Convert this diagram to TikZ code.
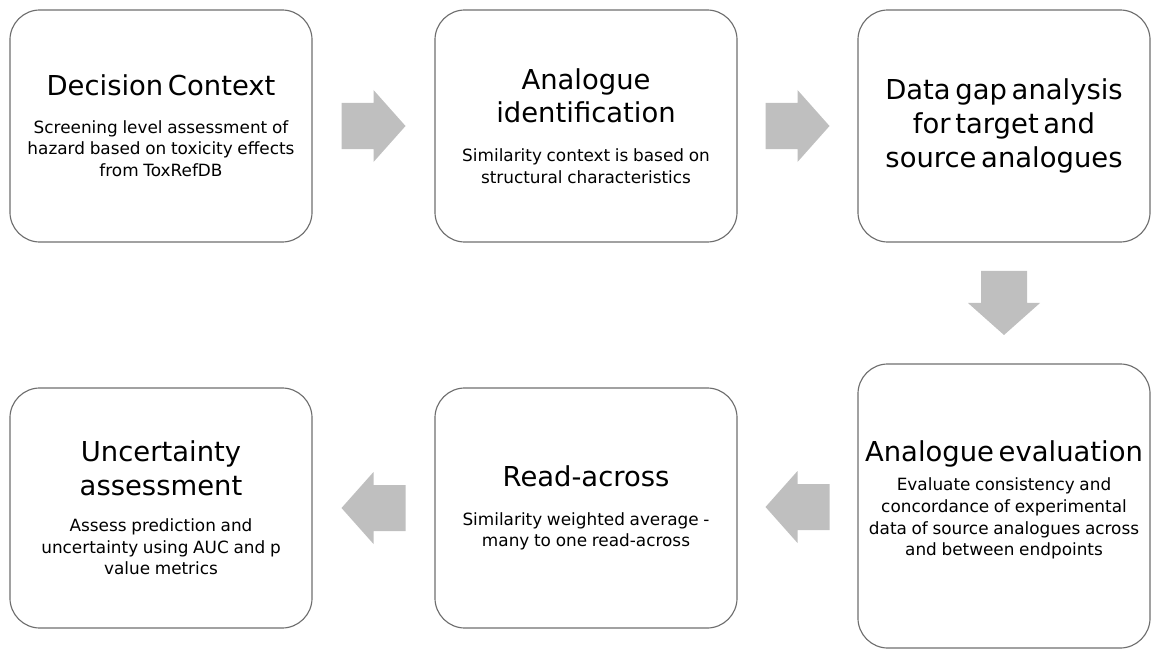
\documentclass[tikz,border=0pt]{standalone}
\usepackage{fontspec}
\setmainfont{DejaVu Sans}
\usepackage{tikz}
\usetikzlibrary{positioning,calc}

\definecolor{boxline}{HTML}{6E6E6E}
\definecolor{flowgray}{HTML}{BFBFBF}
\newcommand{\stagetitle}{\fontsize{19.5}{24}\selectfont}
\newcommand{\stagenote}{\fontsize{12}{15.5}\selectfont}

\begin{document}
\begin{tikzpicture}[
    x=0.025cm, y=-0.025cm,
    stagebox/.style={rectangle, draw=boxline, line width=0.8pt, rounded corners=0.75cm,
        minimum width=7.55cm, minimum height=5.8cm, text width=7.2cm, inner sep=0.05cm, align=center},
    pics/flowarrow/.style={code={
        \fill[flowgray] (-32,-23) -- (0,-23) -- (0,-36) -- (32,0) -- (0,36) -- (0,23) -- (-32,23) -- cycle;
    }}
]
    \useasboundingbox (0,0) rectangle (1152,650);

    % top row
    \node[stagebox] (dc) at (161,126) {{\stagetitle Decision Context\par}\vspace{11pt}
        \stagenote Screening level assessment of\\hazard based on toxicity effects\\from ToxRefDB\par};
    \node[stagebox] (ai) at (586,126) {{\stagetitle Analogue\\identification\par}\vspace{12pt}
        \stagenote Similarity context is based on\\structural characteristics\par};
    \node[stagebox, minimum width=7.3cm] (dg) at (1004,126) {\stagetitle Data gap analysis\\for target and\\source analogues\par};

    % bottom row
    \node[stagebox, minimum width=7.3cm, minimum height=7.1cm] (ae) at (1004,506) {{\stagetitle Analogue evaluation\par}\vspace{5pt}
        \stagenote Evaluate consistency and\\concordance of experimental\\data of source analogues across\\and between endpoints\par\kern8.5pt};
    \node[stagebox, minimum height=6cm] (ra) at (586,508) {{\stagetitle Read-across\par}\vspace{12pt}
        \stagenote Similarity weighted average -\\many to one read-across\par};
    \node[stagebox, minimum height=6cm] (ua) at (161,508) {{\stagetitle Uncertainty\\assessment\par}\vspace{10pt}
        \stagenote Assess prediction and\\uncertainty using AUC and p\\value metrics\par};

    % block arrows between the stages
    \pic (f1) at ($(dc.east)!0.5!(ai.west)$) {flowarrow};
    \pic (f2) at ($(ai.east)!0.5!(dg.west)$) {flowarrow};
    \pic[rotate=-90] (f3) at ($(dg.south)!0.5!(ae.north)$) {flowarrow};
    \pic[rotate=180] (f4) at ($(ae.west)!0.5!(ra.east)$) {flowarrow};
    \pic[rotate=180] (f5) at ($(ra.west)!0.5!(ua.east)$) {flowarrow};
\end{tikzpicture}
\end{document}
